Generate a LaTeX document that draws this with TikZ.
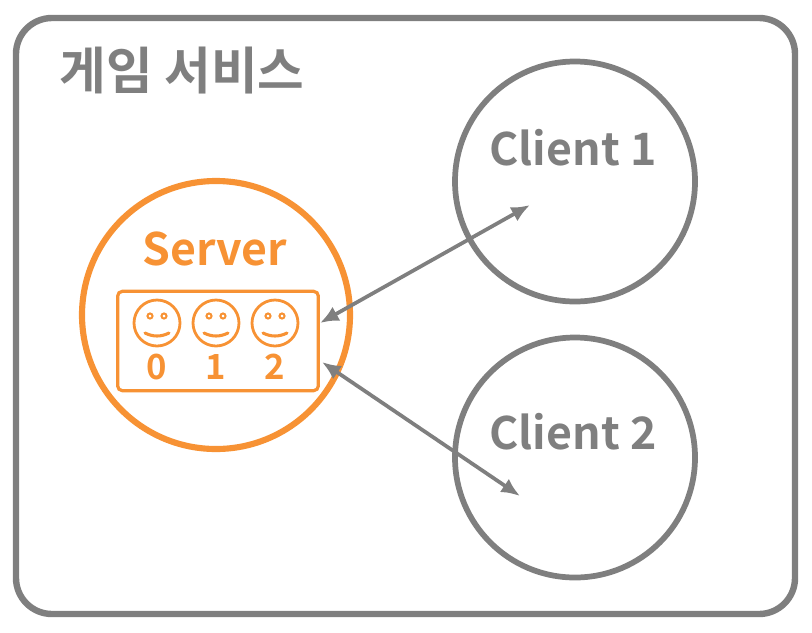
\documentclass[tikz,border=0pt]{standalone}
\usepackage{fontspec}
\setmainfont{Noto Sans CJK KR}[BoldFont={Noto Sans CJK KR Bold}]
\usepackage{xcolor}
\usetikzlibrary{arrows.meta,positioning,calc}
\definecolor{fgray}{HTML}{7F7F7F}
\definecolor{forange}{HTML}{F79234}
\tikzset{
  frame/.style   = {draw=fgray, line width=4.8pt, rounded corners=27pt},
  client/.style  = {draw=fgray, line width=4.3pt, circle, inner sep=0pt, minimum size=180pt},
  server/.style  = {draw=forange, line width=4.6pt, circle, inner sep=0pt, minimum size=201pt},
  slotbox/.style = {draw=forange, line width=2.4pt, rounded corners=3.5pt, rectangle,
                    inner sep=0pt, minimum width=150.5pt, minimum height=74.5pt},
  face/.style    = {draw=forange, line width=2.1pt, circle, inner sep=0pt, minimum size=34.5pt},
  eye/.style     = {draw=forange, line width=1.5pt, circle, inner sep=0pt, minimum size=3.8pt},
  graylabel/.style = {text=fgray, font=\bfseries\fontsize{33.5}{33.5}\selectfont},
  orangelabel/.style = {text=forange, font=\bfseries\fontsize{33.5}{33.5}\selectfont},
  digit/.style   = {text=forange, font=\bfseries\fontsize{26}{26}\selectfont},
  link/.style    = {{Latex[length=14pt,width=12pt]}-{Latex[length=14pt,width=12pt]}, draw=fgray, line width=2.8pt},
}
\begin{document}
\begin{tikzpicture}[x=0.75pt,y=-0.75pt]
\useasboundingbox (0,0) rectangle (812,632);
\draw[frame] (16,18) rectangle (795,614);
\node[text=fgray, font=\bfseries\fontsize{38}{38}\selectfont] (title) at (182,71) {게임 서비스};
% circles
\node[client] (client1) at (575,181.5) {};
\node[client] (client2) at (575,457.5) {};
\node[server] (server) at (216,315) {};
\node[graylabel] (name1) at (573,148) {Client 1};
\node[graylabel] (name2) at (573,432) {Client 2};
\node[orangelabel] (servername) at (215,249) {Server};
\node[slotbox] (slots) at (218,341) {};
% three faces
\foreach \i/\x in {0/157,1/216,2/275}{
  \node[face] (face\i) at (\x,323) {};
  \node[eye] at (\x-7,316) {};
  \node[eye] at (\x+7,316) {};
  \draw[draw=forange, line width=2.3pt, line cap=round] (\x-12,333) .. controls (\x-4,337) and (\x+4,337) .. (\x+12,333);
  \node[digit] (num\i) at (\x,367) {\i};
}
% arrows
\coordinate (end1) at (530,205);
\coordinate (end2) at (520,496);
\coordinate (slot1) at (320,323);
\coordinate (slot2) at (322,362);
\draw[link] (slot1) -- (end1);
\draw[link] (slot2) -- (end2);
\end{tikzpicture}
\end{document}
